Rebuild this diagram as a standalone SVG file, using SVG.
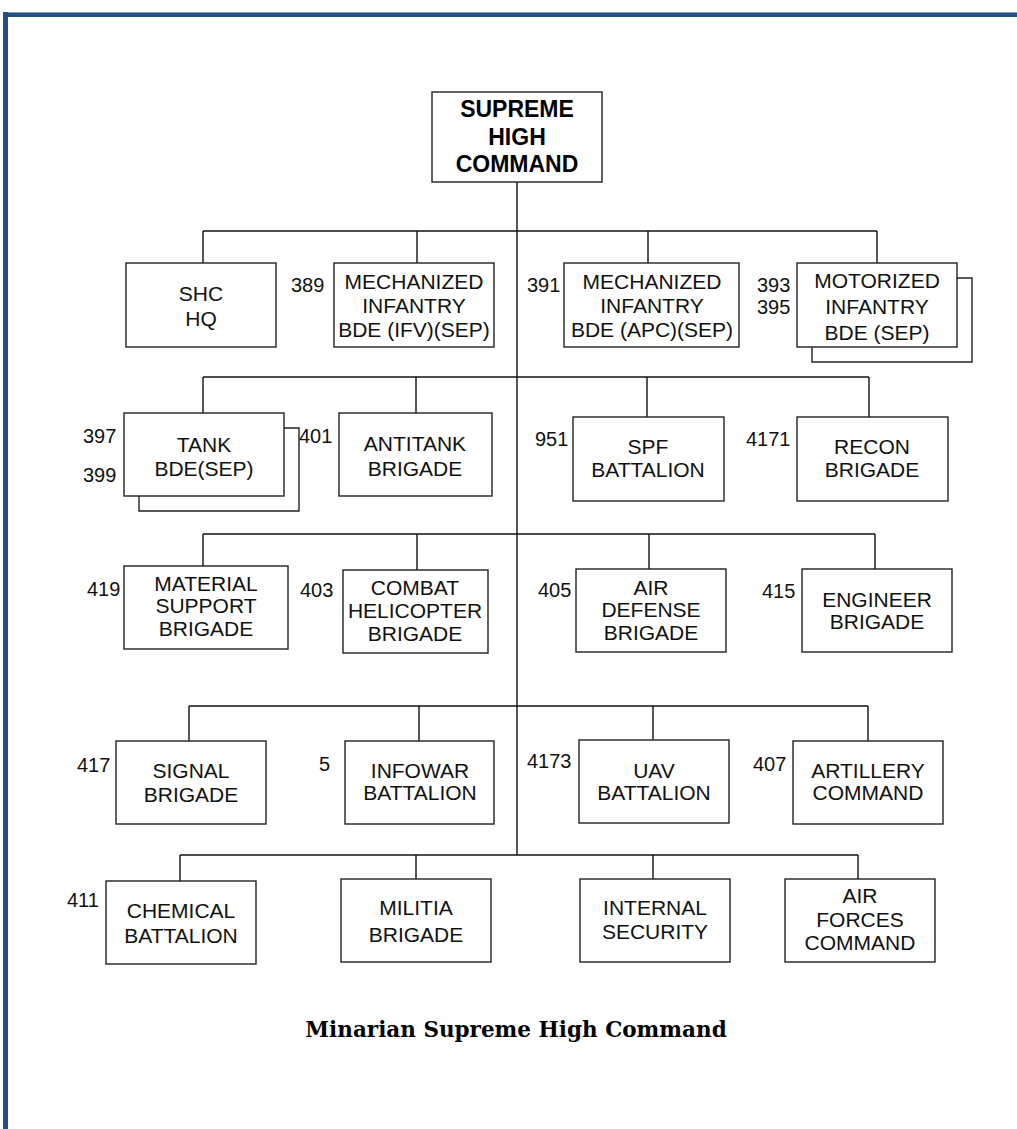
<svg xmlns="http://www.w3.org/2000/svg" width="1017" height="1129" viewBox="0 0 1017 1129">
<style>
.box{fill:#fff;stroke:#222;stroke-width:1.4}
.sh{fill:none;stroke:#222;stroke-width:1.4}
.t{font-family:"Liberation Sans",Arial,sans-serif;font-size:21px;fill:#111;text-anchor:middle}
.n{font-family:"Liberation Sans",Arial,sans-serif;font-size:20px;fill:#111}
.hb{font-family:"Liberation Sans",Arial,sans-serif;font-size:23px;font-weight:bold;fill:#000;text-anchor:middle}
.cap{font-family:"DejaVu Serif","Liberation Serif",serif;font-size:21.5px;font-weight:bold;fill:#000;text-anchor:middle}
#connectors line{stroke:#111;stroke-width:1.4}
</style>
<rect width="1017" height="1129" fill="#fff"/>
<g id="frame">
<rect x="3" y="12" width="1014" height="5" fill="#244f84"/>
<rect x="3" y="12" width="1014" height="1" fill="#7c9cc2"/>
<rect x="3" y="12" width="5" height="1117" fill="#244f84"/>
</g>
<g id="connectors">
<line x1="517" y1="182" x2="517" y2="855"/>
<line x1="203" y1="231" x2="877" y2="231"/>
<line x1="203" y1="231" x2="203" y2="263"/>
<line x1="417" y1="231" x2="417" y2="263"/>
<line x1="648" y1="231" x2="648" y2="263"/>
<line x1="877" y1="231" x2="877" y2="263"/>
<line x1="203" y1="377" x2="869" y2="377"/>
<line x1="203" y1="377" x2="203" y2="413"/>
<line x1="416" y1="377" x2="416" y2="413"/>
<line x1="647" y1="377" x2="647" y2="417"/>
<line x1="869" y1="377" x2="869" y2="417"/>
<line x1="203" y1="534" x2="875" y2="534"/>
<line x1="203" y1="534" x2="203" y2="566"/>
<line x1="417" y1="534" x2="417" y2="570"/>
<line x1="649" y1="534" x2="649" y2="569"/>
<line x1="875" y1="534" x2="875" y2="569"/>
<line x1="189" y1="706" x2="868" y2="706"/>
<line x1="189" y1="706" x2="189" y2="741"/>
<line x1="419" y1="706" x2="419" y2="741"/>
<line x1="653" y1="706" x2="653" y2="740"/>
<line x1="868" y1="706" x2="868" y2="741"/>
<line x1="180" y1="855" x2="858" y2="855"/>
<line x1="180" y1="855" x2="180" y2="881"/>
<line x1="416" y1="855" x2="416" y2="879"/>
<line x1="653" y1="855" x2="653" y2="879"/>
<line x1="858" y1="855" x2="858" y2="879"/>
</g>
<g id="shc">
<rect class="box" x="432" y="92" width="170" height="90"/>
<text class="hb" x="517" y="117">SUPREME</text>
<text class="hb" x="517" y="145">HIGH</text>
<text class="hb" x="517" y="172">COMMAND</text>
</g>
<g id="shc-hq">
<rect class="box" x="126" y="263" width="150" height="84"/>
<text class="t" x="201" y="301">SHC</text>
<text class="t" x="201" y="326">HQ</text>
</g>
<g id="mech-ifv">
<text class="n" x="291" y="292">389</text>
<rect class="box" x="334" y="263" width="160" height="84"/>
<text class="t" x="414" y="289">MECHANIZED</text>
<text class="t" x="414" y="313">INFANTRY</text>
<text class="t" x="414" y="337">BDE (IFV)(SEP)</text>
</g>
<g id="mech-apc">
<text class="n" x="527" y="292">391</text>
<rect class="box" x="564" y="263" width="175" height="84"/>
<text class="t" x="652" y="289">MECHANIZED</text>
<text class="t" x="652" y="313">INFANTRY</text>
<text class="t" x="652" y="337">BDE (APC)(SEP)</text>
</g>
<g id="motorized">
<text class="n" x="757" y="292">393</text>
<text class="n" x="757" y="314">395</text>
<polyline class="sh" points="957,278 972,278 972,362 812,362 812,347"/>
<rect class="box" x="797" y="263" width="160" height="84"/>
<text class="t" x="877" y="288">MOTORIZED</text>
<text class="t" x="877" y="314">INFANTRY</text>
<text class="t" x="877" y="340">BDE (SEP)</text>
</g>
<g id="tank">
<text class="n" x="83" y="443">397</text>
<text class="n" x="83" y="482">399</text>
<polyline class="sh" points="284,428 299,428 299,511 139,511 139,496"/>
<rect class="box" x="124" y="413" width="160" height="83"/>
<text class="t" x="204" y="452">TANK</text>
<text class="t" x="204" y="476">BDE(SEP)</text>
</g>
<g id="antitank">
<text class="n" x="299" y="443">401</text>
<rect class="box" x="339" y="413" width="153" height="83"/>
<text class="t" x="415" y="451">ANTITANK</text>
<text class="t" x="415" y="476">BRIGADE</text>
</g>
<g id="spf">
<text class="n" x="535" y="446">951</text>
<rect class="box" x="573" y="417" width="151" height="84"/>
<text class="t" x="648" y="454">SPF</text>
<text class="t" x="648" y="477">BATTALION</text>
</g>
<g id="recon">
<text class="n" x="746" y="446">4171</text>
<rect class="box" x="797" y="417" width="151" height="84"/>
<text class="t" x="872" y="454">RECON</text>
<text class="t" x="872" y="477">BRIGADE</text>
</g>
<g id="material">
<text class="n" x="87" y="596">419</text>
<rect class="box" x="124" y="566" width="164" height="83"/>
<text class="t" x="206" y="591">MATERIAL</text>
<text class="t" x="206" y="613">SUPPORT</text>
<text class="t" x="206" y="636">BRIGADE</text>
</g>
<g id="helicopter">
<text class="n" x="300" y="597">403</text>
<rect class="box" x="343" y="570" width="145" height="83"/>
<text class="t" x="415" y="595">COMBAT</text>
<text class="t" x="415" y="618">HELICOPTER</text>
<text class="t" x="415" y="641">BRIGADE</text>
</g>
<g id="airdef">
<text class="n" x="538" y="597">405</text>
<rect class="box" x="576" y="569" width="150" height="83"/>
<text class="t" x="651" y="595">AIR</text>
<text class="t" x="651" y="617">DEFENSE</text>
<text class="t" x="651" y="640">BRIGADE</text>
</g>
<g id="engineer">
<text class="n" x="762" y="598">415</text>
<rect class="box" x="802" y="569" width="150" height="83"/>
<text class="t" x="877" y="607">ENGINEER</text>
<text class="t" x="877" y="629">BRIGADE</text>
</g>
<g id="signal">
<text class="n" x="77" y="772">417</text>
<rect class="box" x="116" y="741" width="150" height="83"/>
<text class="t" x="191" y="778">SIGNAL</text>
<text class="t" x="191" y="802">BRIGADE</text>
</g>
<g id="infowar">
<text class="n" x="319" y="771">5</text>
<rect class="box" x="345" y="741" width="149" height="83"/>
<text class="t" x="420" y="778">INFOWAR</text>
<text class="t" x="420" y="800">BATTALION</text>
</g>
<g id="uav">
<text class="n" x="527" y="768">4173</text>
<rect class="box" x="579" y="740" width="150" height="83"/>
<text class="t" x="654" y="778">UAV</text>
<text class="t" x="654" y="800">BATTALION</text>
</g>
<g id="artillery">
<text class="n" x="753" y="771">407</text>
<rect class="box" x="793" y="741" width="150" height="83"/>
<text class="t" x="868" y="778">ARTILLERY</text>
<text class="t" x="868" y="800">COMMAND</text>
</g>
<g id="chemical">
<text class="n" x="67" y="907">411</text>
<rect class="box" x="106" y="881" width="150" height="83"/>
<text class="t" x="181" y="918">CHEMICAL</text>
<text class="t" x="181" y="943">BATTALION</text>
</g>
<g id="militia">
<rect class="box" x="341" y="879" width="150" height="83"/>
<text class="t" x="416" y="915">MILITIA</text>
<text class="t" x="416" y="942">BRIGADE</text>
</g>
<g id="internal">
<rect class="box" x="580" y="879" width="150" height="83"/>
<text class="t" x="655" y="915">INTERNAL</text>
<text class="t" x="655" y="939">SECURITY</text>
</g>
<g id="airforces">
<rect class="box" x="785" y="879" width="150" height="83"/>
<text class="t" x="860" y="903">AIR</text>
<text class="t" x="860" y="927">FORCES</text>
<text class="t" x="860" y="950">COMMAND</text>
</g>
<text class="cap" x="516" y="1037">Minarian Supreme High Command</text>
</svg>
